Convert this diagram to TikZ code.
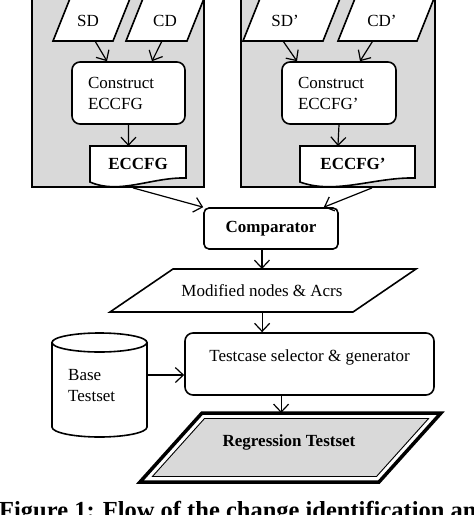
\documentclass[tikz,border=0pt]{standalone}
\usepackage{fontspec}
\setmainfont{Liberation Serif}
\usetikzlibrary{arrows.meta,positioning}

\tikzset{
    panel/.style={draw, line width=1.8pt, fill=gray!30},
    io/.style={draw, line width=1.6pt, fill=white},
    proc/.style={draw, line width=1.6pt, fill=white, rounded corners=8pt},
    arr/.style={-{Straight Barb[length=8pt,width=15pt]}, line width=1.2pt},
    txt/.style={font=\fontsize{17}{21}\selectfont, inner sep=2pt},
    btxt/.style={txt, font=\fontsize{17}{21}\selectfont\bfseries},
}

\begin{document}
\begin{tikzpicture}[x=1pt, y=-1pt]
    \useasboundingbox (0,0) rectangle (474,515);
    \clip (0,0) rectangle (474,515);

    % old version
    \node[panel, minimum width=172pt, minimum height=207pt] (old) at (118,83.5) {};
    \draw[io] (53,41) -- coordinate[pos=0.7] (sd-out) (113,41) -- (131,-4) -- (71,-4) -- cycle;
    \node[txt] (sd) at (88,21) {SD};
    \draw[io] (126,41) -- coordinate[pos=0.59] (cd-out) (187,41) -- (205,-4) -- (144,-4) -- cycle;
    \node[txt] (cd) at (165,21) {CD};
    \node[proc, txt, minimum width=113pt, minimum height=62pt, text width=81pt, inner xsep=16pt, align=left] (con) at (128.5,93) {Construct\\ECCFG};
    \draw[arr] (sd-out) -- ([xshift=-21.5pt]con.north);
    \draw[arr] (cd-out) -- ([xshift=23.5pt]con.north);
    \draw[io] (90,182) -- (90,146) -- coordinate[pos=0.4] (ecc-in) (186,146) -- (186,178)
        .. controls (152,177) and (119,195) .. (90,182) -- cycle;
    \node[btxt] (ecc) at (138,164) {ECCFG};
    \draw[arr] (con.south) -- (ecc-in);

    % new version
    \node[panel, minimum width=194pt, minimum height=207pt] (new) at (338,83.5) {};
    \draw[io] (243,41) -- coordinate[pos=0.5] (sdp-out) (323,41) -- (341,-4) -- (261,-4) -- cycle;
    \node[txt] (sdp) at (285,21) {SD’};
    \draw[io] (338,41) -- coordinate[pos=0.44] (cdp-out) (417,41) -- (435,-4) -- (356,-4) -- cycle;
    \node[txt] (cdp) at (382,21) {CD’};
    \node[proc, txt, minimum width=114pt, minimum height=62pt, text width=82pt, inner xsep=16pt, align=left] (conp) at (339,93) {Construct\\ECCFG’};
    \draw[arr] (sdp-out) -- ([xshift=-42pt]conp.north);
    \draw[arr] (cdp-out) -- ([xshift=21pt]conp.north);
    \draw[io] (300,182) -- (300,146) -- coordinate[pos=0.33] (eccp-in) (415,146) -- (415,178)
        .. controls (375,177) and (335,195) .. (300,182) -- cycle;
    \node[btxt] (eccp) at (353,164) {ECCFG’};
    \draw[arr] (conp.south) -- (eccp-in);

    % comparison
    \node[proc, btxt, rounded corners=5pt, minimum width=134pt, minimum height=41pt] (cmp) at (271,228.5) {Comparator};
    \draw[arr] ([xshift=15pt]old.south) -- (cmp.north west);
    \draw[arr] ([xshift=34pt]new.south) -- ([xshift=-15pt]cmp.north east);

    \draw[io] (110,312) -- coordinate[pos=0.626] (mod-b) (353,312) -- (416,269) -- coordinate[pos=0.634] (mod-t) (173,269) -- cycle;
    \node[txt] (mod) at (262,291) {Modified nodes \& Acrs};
    \draw[arr] (cmp.south -| mod-t) -- (mod-t);

    \node[proc, txt, minimum width=249pt, minimum height=62pt, text height=12pt, text depth=17pt] (tcs) at (309.5,364) {Testcase selector \& generator};
    \draw[arr] (mod-b) -- (mod-b |- tcs.north);

    % base testset
    \draw[io] (52,342.5) -- (52,427) arc[start angle=180, end angle=360, x radius=47.5pt, y radius=10pt]
        -- coordinate[pos=0.615] (cyl-r) (147,342.5) arc[start angle=0, end angle=180, x radius=47.5pt, y radius=9.5pt] -- cycle;
    \draw[line width=1.6pt] (52,342.5) arc[start angle=180, end angle=360, x radius=47.5pt, y radius=9.5pt];
    \node[txt, align=left, anchor=west] (bts) at (66,386) {Base\\Testset};
    \draw[arr] (cyl-r) -- (cyl-r -| tcs.west);

    % regression testset
    \draw[line width=3.5pt, fill=white] (140,482) -- (379,482) -- (441,413) -- coordinate[pos=0.669] (reg-t) (202,413) -- cycle;
    \draw[line width=0.9pt, fill=gray!30] (152.4,476.5) -- (376.5,476.5) -- (428.6,418.5) -- (204.5,418.5) -- cycle;
    \node[btxt] (reg) at (289,442) {Regression Testset};
    \draw[arr] (tcs.south -| reg-t) -- (reg-t);

    \node[anchor=base west, inner sep=0pt, font=\fontsize{24.5}{29}\selectfont\bfseries] (cap) at (-1,518) {Figure 1: Flow of the change identification and};
\end{tikzpicture}
\end{document}
